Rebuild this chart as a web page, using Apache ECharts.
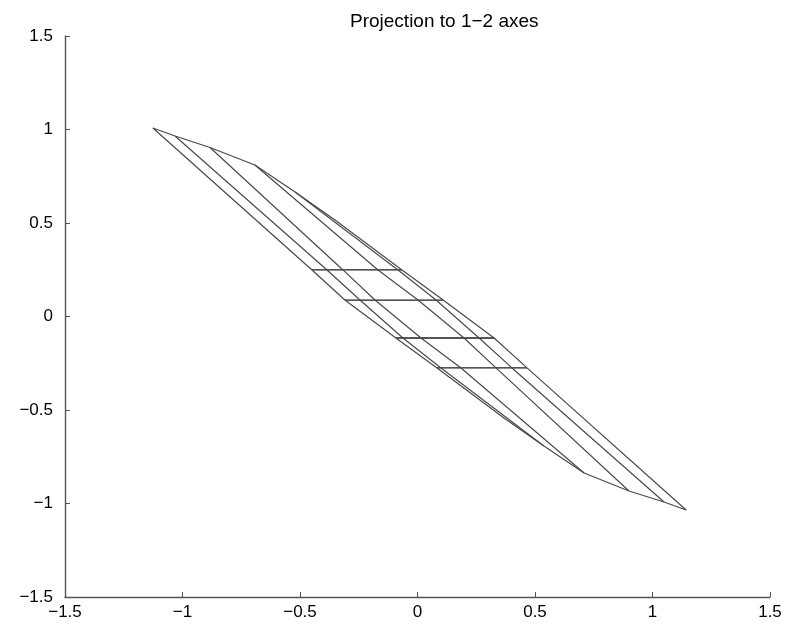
<!DOCTYPE html>
<html>
<head>
<meta charset="utf-8">
<script src="https://cdn.jsdelivr.net/npm/echarts@6/dist/echarts.min.js"></script>
<style>
html,body{margin:0;padding:0;background:#fff;}
#chart{width:791px;height:636px;}
</style>
</head>
<body>
<div id="chart"></div>
<script>
// Mesh nodes: rows of [x, y] points (data units)
var row0 = [[-1.126, 1.008], [-1.032, 0.965], [-0.883, 0.904], [-0.692, 0.810], [-0.521, 0.666], [-0.351, 0.516]];
var row1 = [[-0.449, 0.249], [-0.385, 0.249], [-0.317, 0.249], [-0.168, 0.249], [-0.083, 0.249], [-0.066, 0.249]];
var row2 = [[-0.309, 0.088], [-0.245, 0.088], [-0.181, 0.088], [0.002, 0.088], [0.079, 0.088], [0.109, 0.088]];
var row3 = [[-0.092, -0.115], [-0.062, -0.115], [0.015, -0.115], [0.198, -0.115], [0.262, -0.115], [0.326, -0.115]];
var row4 = [[0.083, -0.275], [0.100, -0.275], [0.185, -0.275], [0.334, -0.275], [0.402, -0.275], [0.466, -0.275]];
var row5 = [[0.368, -0.543], [0.538, -0.693], [0.709, -0.837], [0.900, -0.933], [1.049, -0.992], [1.143, -1.035]];
var xTicks = [-1.5, -1, -0.5, 0, 0.5, 1, 1.5];
var yTicks = [-1.5, -1, -0.5, 0, 0.5, 1, 1.5];
var titleText = 'Projection to 1\u22122 axes';

var rows = [row0, row1, row2, row3, row4, row5];
var series = [];
var edgeStyle = {color: '#4a4a4a', width: 1.2};
var flatStyle = {color: '#1e1e1e', width: 1.3};
rows.forEach(function (r, i) {
  series.push({type: 'line', data: r, symbol: 'none',
    lineStyle: (i === 0 || i === rows.length - 1) ? edgeStyle : flatStyle,
    silent: true, animation: false});
});
for (var j = 0; j < row0.length; j++) {
  var col = rows.map(function (r) { return r[j]; });
  series.push({type: 'line', data: col, symbol: 'none', lineStyle: edgeStyle, silent: true, animation: false});
}

function fmt(v) {
  return String(v).replace('-', '\u2212');
}

var chart = echarts.init(document.getElementById('chart'), null, {renderer: 'canvas'});
var FONT = 'Liberation Sans, Arial, Helvetica, sans-serif';
var axisCommon = {
  type: 'value', min: -1.5, max: 1.5, interval: 0.5,
  axisLine: {show: true, onZero: false, lineStyle: {color: '#555', width: 1.4}},
  axisTick: {show: true, inside: true, length: 5, lineStyle: {color: '#555'}},
  splitLine: {show: false},
  axisLabel: {color: '#000', fontSize: 17, fontFamily: FONT, formatter: fmt}
};
chart.setOption({
  backgroundColor: '#fff',
  animation: false,
  title: {
    text: titleText, left: 345, top: 7,
    textStyle: {fontSize: 19, fontWeight: 'normal', color: '#000', fontFamily: FONT}
  },
  grid: {left: 65, right: 21, top: 36, bottom: 39, containLabel: false},
  xAxis: Object.assign({}, axisCommon, {axisLabel: Object.assign({}, axisCommon.axisLabel, {margin: 7})}),
  yAxis: Object.assign({}, axisCommon, {axisLabel: Object.assign({}, axisCommon.axisLabel, {margin: 12})}),
  series: series
});
</script>
</body>
</html>
